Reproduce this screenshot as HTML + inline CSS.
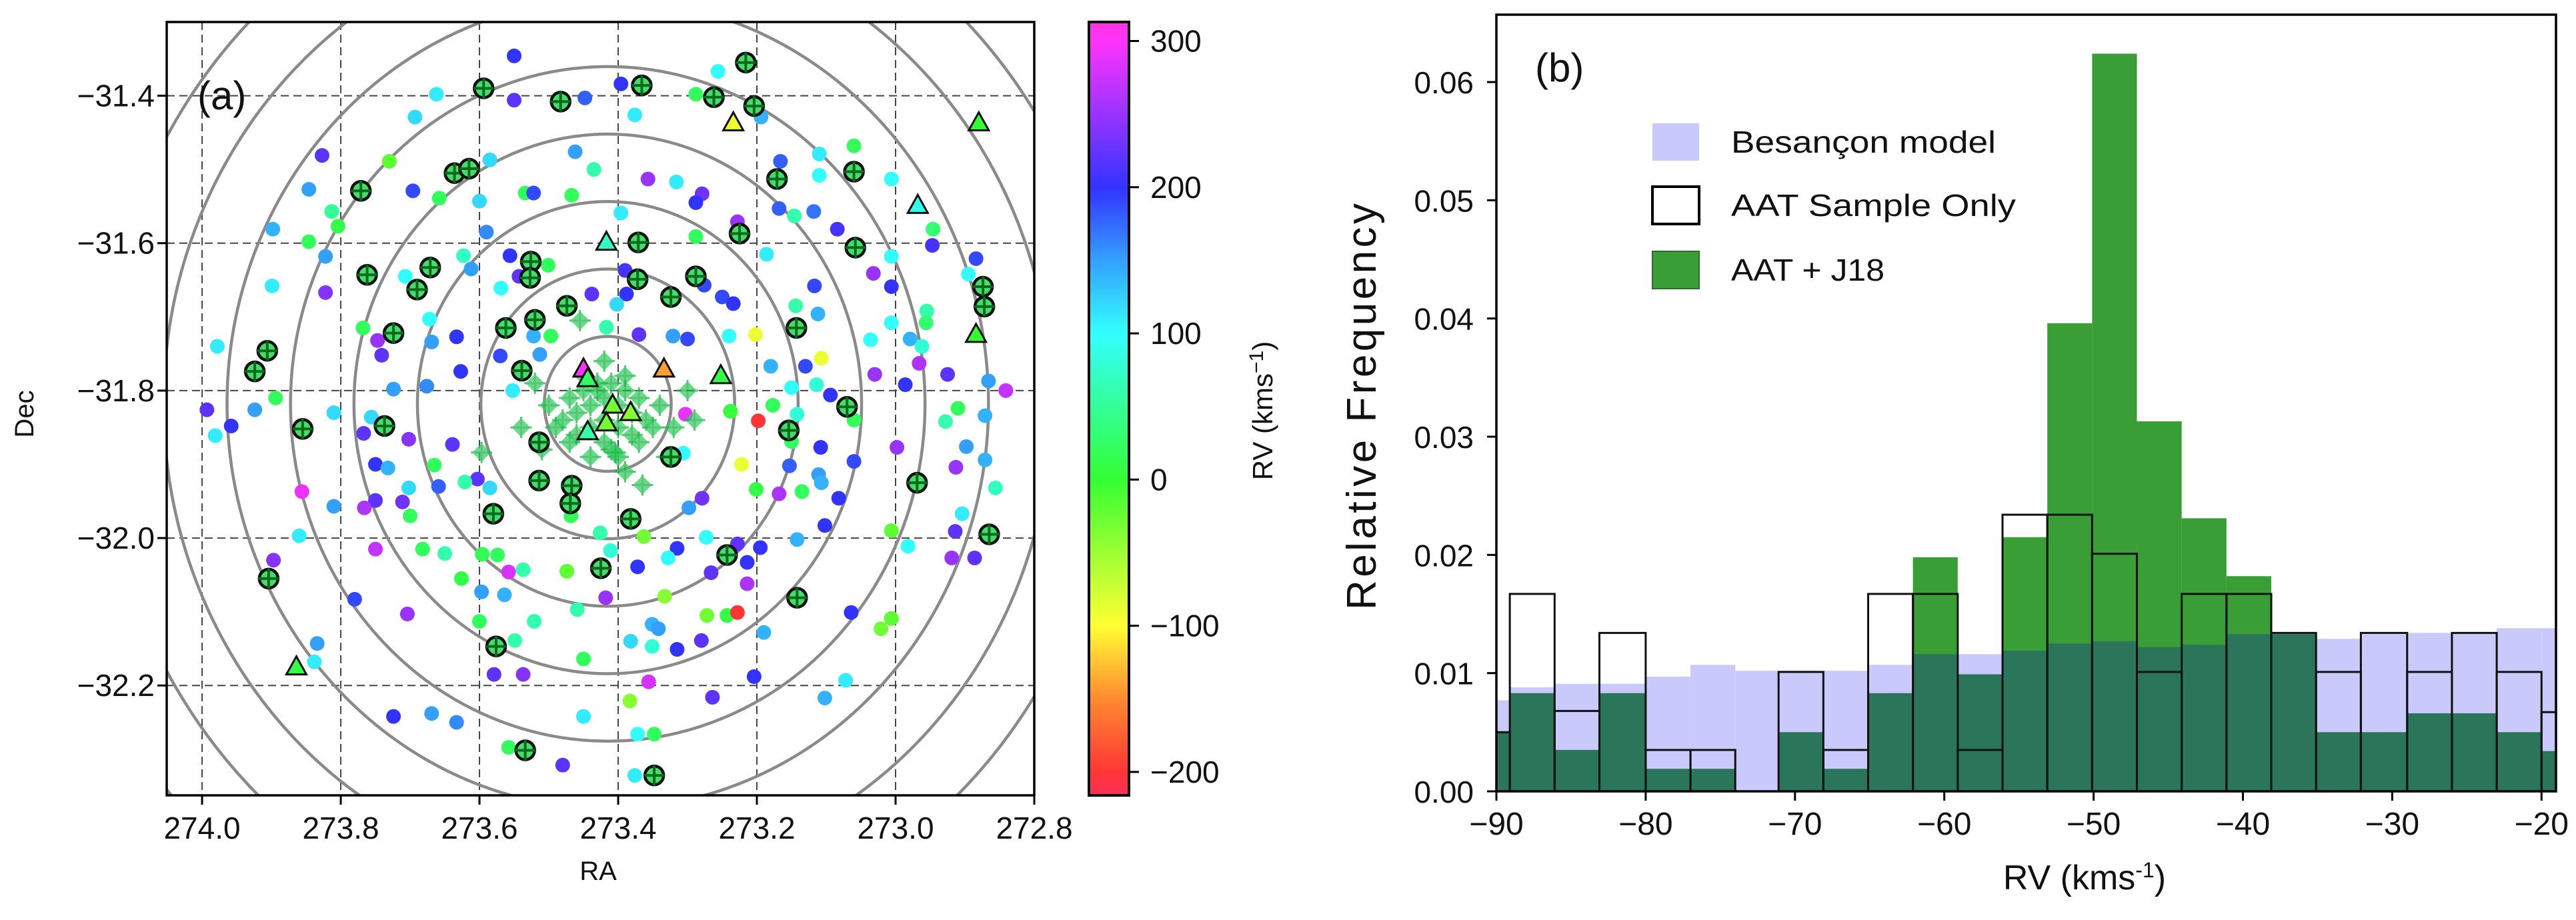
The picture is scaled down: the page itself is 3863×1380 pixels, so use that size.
<!DOCTYPE html>
<html><head><meta charset="utf-8"><style>
html,body{margin:0;padding:0;background:#fff;width:3863px;height:1380px;overflow:hidden;}
svg{display:block;}
text{font-family:"Liberation Sans",sans-serif;fill:#111;}
</style></head><body>
<svg id="fig" width="3863" height="1380" viewBox="0 0 3863 1380" overflow="hidden" xmlns="http://www.w3.org/2000/svg">
<defs>
<clipPath id="clipA"><rect x="250" y="33" width="1301" height="1160"/></clipPath>
<clipPath id="clipB"><rect x="2244" y="22" width="1589" height="1165"/></clipPath>
<linearGradient id="cbar" x1="0" y1="1" x2="0" y2="0">
<stop offset="0" stop-color="#ff3058"/><stop offset="0.03" stop-color="#ff3535"/><stop offset="0.125" stop-color="#ff8a30"/><stop offset="0.219" stop-color="#ffff33"/><stop offset="0.314" stop-color="#9cff33"/><stop offset="0.408" stop-color="#33ff33"/><stop offset="0.503" stop-color="#33ff99"/><stop offset="0.597" stop-color="#33ffff"/><stop offset="0.692" stop-color="#33a0ff"/><stop offset="0.786" stop-color="#3333ff"/><stop offset="0.881" stop-color="#9933ff"/><stop offset="0.975" stop-color="#ff33ff"/><stop offset="1" stop-color="#ff33dd"/>
</linearGradient>
</defs>
<g id="panelA"></g>
<g id="panelB"></g>
</svg>
<script>
// ---------- Panel (a) data ----------
const dotRA=[273.550,273.256,273.396,273.662,273.550,273.448,273.288,273.376,273.693,273.194,273.060,273.462,273.827,273.730,273.585,273.110,273.166,273.435,273.110,273.006,273.357,273.316,273.846,273.696,273.534,273.522,273.467,273.279,273.658,273.600,273.288,273.168,273.118,273.146,273.396,273.813,273.804,273.228,273.084,272.946,273.898,273.590,273.846,272.947,273.288,273.822,273.623,273.556,272.884,273.186,273.501,273.006,273.612,273.543,273.390,273.032,272.895,273.707,273.899,273.276,273.569,273.117,273.006,273.822,273.388,273.250,273.234,273.438,273.402,273.144,272.955,273.112,273.417,273.672,273.006,273.768,272.956,273.370,273.321,273.300,273.497,273.202,273.240,273.036,272.979,273.747,273.669,273.633,273.522,273.741,273.570,273.513,272.962,273.107,272.966,273.978,273.180,273.130,273.627,272.925,273.030,272.866,272.986,272.841,273.724,273.676,273.552,273.150,273.094,273.114,273.993,273.924,273.894,273.810,273.756,273.958,273.981,273.177,273.142,272.910,272.928,272.871,273.060,273.198,273.238,273.303,273.767,273.702,273.639,272.898,272.998,273.108,273.306,273.150,273.750,273.732,273.665,273.603,273.222,273.060,272.871,273.153,272.913,273.621,273.659,273.702,273.810,273.856,273.750,273.711,273.766,273.585,273.279,273.298,273.201,273.168,273.135,273.111,273.107,273.082,272.856,273.468,273.700,272.904,273.102,273.860,273.363,273.426,273.273,273.142,273.006,272.914,273.411,273.897,273.750,273.682,273.650,273.596,273.574,273.315,273.228,273.195,272.982,272.919,272.886,273.328,273.214,273.558,273.537,273.474,273.372,273.266,273.626,273.214,273.597,273.564,273.780,273.333,273.418,273.704,273.459,273.272,273.243,273.228,273.064,273.006,273.021,273.600,273.521,273.351,273.342,273.190,273.834,273.382,273.280,273.549,273.351,273.315,273.838,273.450,273.579,273.537,273.356,273.204,273.072,273.383,273.264,273.102,273.724,273.669,273.633,273.450,273.372,273.348,273.558,273.480,273.376];
const dotDec=[-31.346,-31.367,-31.384,-31.398,-31.406,-31.403,-31.398,-31.426,-31.429,-31.429,-31.468,-31.476,-31.481,-31.489,-31.487,-31.479,-31.489,-31.500,-31.508,-31.513,-31.513,-31.517,-31.527,-31.529,-31.532,-31.532,-31.535,-31.533,-31.539,-31.543,-31.545,-31.553,-31.557,-31.563,-31.559,-31.557,-31.577,-31.571,-31.581,-31.581,-31.581,-31.585,-31.598,-31.603,-31.591,-31.618,-31.617,-31.617,-31.621,-31.615,-31.630,-31.618,-31.635,-31.645,-31.637,-31.641,-31.642,-31.645,-31.658,-31.657,-31.661,-31.658,-31.659,-31.667,-31.669,-31.673,-31.682,-31.669,-31.683,-31.685,-31.692,-31.696,-31.714,-31.703,-31.708,-31.715,-31.708,-31.724,-31.726,-31.730,-31.726,-31.724,-31.726,-31.731,-31.730,-31.732,-31.734,-31.727,-31.726,-31.752,-31.753,-31.751,-31.740,-31.756,-31.763,-31.740,-31.767,-31.767,-31.774,-31.778,-31.778,-31.787,-31.792,-31.800,-31.798,-31.794,-31.800,-31.796,-31.806,-31.792,-31.826,-31.826,-31.810,-31.830,-31.836,-31.848,-31.861,-31.820,-31.832,-31.824,-31.842,-31.834,-31.840,-31.841,-31.828,-31.832,-31.858,-31.866,-31.873,-31.876,-31.877,-31.877,-31.885,-31.869,-31.900,-31.905,-31.901,-31.920,-31.900,-31.896,-31.894,-31.902,-31.904,-31.924,-31.930,-31.932,-31.957,-31.937,-31.949,-31.951,-31.959,-31.932,-31.946,-31.959,-31.934,-31.940,-31.937,-31.914,-31.925,-31.946,-31.932,-31.970,-31.970,-31.967,-31.983,-31.997,-31.998,-31.993,-31.999,-32.002,-31.990,-31.991,-32.017,-32.030,-32.015,-32.015,-32.021,-32.022,-32.023,-32.014,-32.008,-32.013,-32.011,-32.027,-32.027,-32.027,-32.033,-32.046,-32.043,-32.045,-32.039,-32.047,-32.055,-32.062,-32.073,-32.077,-32.083,-32.079,-32.081,-32.103,-32.097,-32.105,-32.105,-32.101,-32.101,-32.109,-32.123,-32.113,-32.113,-32.117,-32.123,-32.128,-32.143,-32.140,-32.139,-32.139,-32.147,-32.151,-32.168,-32.164,-32.185,-32.185,-32.195,-32.188,-32.193,-32.221,-32.216,-32.217,-32.242,-32.238,-32.250,-32.242,-32.266,-32.266,-32.284,-32.308,-32.322];
const dotRV=[200,100,200,110,220,180,20,110,120,140,20,150,220,-20,120,110,180,60,100,100,250,110,150,190,20,190,20,230,20,120,200,180,170,60,110,50,10,250,210,30,140,160,20,210,20,150,70,200,190,110,20,100,150,220,210,250,100,100,110,190,100,190,200,240,200,190,200,220,120,60,60,140,60,100,100,20,30,220,150,190,20,-90,100,100,140,250,150,200,140,220,190,150,80,-90,260,110,140,190,200,220,250,150,200,270,150,160,110,100,200,80,220,150,20,120,120,200,110,20,80,20,60,140,20,-200,5,290,220,240,220,150,250,200,100,20,200,140,20,220,-90,190,140,180,250,60,180,120,150,290,220,230,260,120,230,150,10,260,20,150,140,200,70,20,20,110,200,110,-30,60,100,140,-20,220,80,240,270,20,60,15,20,200,220,200,100,250,220,100,200,280,60,-20,200,220,10,260,150,140,190,-40,250,250,60,-30,10,-200,200,-20,-30,20,60,140,150,140,150,120,220,60,80,200,110,20,220,240,280,200,110,-40,220,140,200,150,160,110,100,20,20,220,110];
const memRA=[273.216,273.366,273.594,273.483,273.262,273.204,273.636,273.615,273.060,273.171,273.771,273.225,273.371,273.058,273.526,273.671,273.762,273.527,273.372,273.288,272.874,273.690,273.324,273.474,272.872,273.562,273.520,273.143,273.724,273.906,273.539,273.924,273.070,273.855,273.737,273.154,273.514,273.324,273.514,273.467,273.469,272.969,273.580,273.382,272.865,273.904,273.243,273.425,273.142,273.576,273.534,273.348];
const memDec=[-31.355,-31.386,-31.390,-31.408,-31.402,-31.414,-31.505,-31.499,-31.503,-31.513,-31.529,-31.587,-31.599,-31.606,-31.625,-31.633,-31.643,-31.647,-31.649,-31.645,-31.659,-31.663,-31.673,-31.685,-31.686,-31.715,-31.704,-31.715,-31.722,-31.746,-31.773,-31.774,-31.822,-31.852,-31.848,-31.854,-31.870,-31.890,-31.922,-31.929,-31.953,-31.925,-31.967,-31.974,-31.995,-32.055,-32.023,-32.041,-32.081,-32.147,-32.288,-32.322];
const memRV=[30,30,30,30,30,30,30,30,30,30,30,30,30,30,30,30,30,30,30,30,30,30,30,30,30,30,30,30,30,30,30,30,30,30,30,30,30,30,30,30,30,30,30,30,30,30,30,30,30,30,30,30];
const triRA=[273.234,272.880,272.968,273.417,272.884,273.450,273.334,273.252,273.408,273.382,273.417,273.444,273.444,273.864];
const triDec=[-31.437,-31.437,-31.549,-31.599,-31.724,-31.771,-31.771,-31.780,-31.820,-31.830,-31.844,-31.856,-31.784,-32.175];
const triRV=[-90,0,90,70,0,300,-140,10,-30,-40,-30,60,20,10];
const clRA=[273.43,273.41,273.39,273.45,273.37,273.47,273.42,273.40,273.44,273.46,273.38,273.36,273.48,273.42,273.40,273.44,273.46,273.38,273.42,273.35,273.49,273.41,273.43,273.39,273.45,273.50,273.34,273.37,273.47,273.42,273.52,273.30,273.54,273.32,273.40,273.44,273.29,273.51,273.39,273.33,273.455,273.597,273.404,273.365];
const clDec=[-31.79,-31.79,-31.80,-31.80,-31.81,-31.81,-31.81,-31.82,-31.82,-31.83,-31.83,-31.84,-31.84,-31.84,-31.85,-31.85,-31.86,-31.86,-31.87,-31.85,-31.85,-31.88,-31.80,-31.78,-31.78,-31.82,-31.82,-31.87,-31.87,-31.76,-31.79,-31.80,-31.85,-31.85,-31.89,-31.89,-31.84,-31.88,-31.91,-31.89,-31.705,-31.884,-31.884,-31.928];
const clRV=[20,25,15,30,20,10,25,20,15,30,20,25,10,20,15,30,20,25,15,20,10,25,20,30,15,20,25,15,20,30,20,25,20,15,25,20,30,20,25,20,20,15,20,25];
const raTicks=[274.0,273.8,273.6,273.4,273.2,273.0,272.8];
const decTicks=[-31.4,-31.6,-31.8,-32.0,-32.2];
const cbTicks=[300,200,100,0,-100,-200];
const ringCenter=[273.415,-31.818];
const ringRadii=[0.0915,0.183,0.2745,0.366,0.4575,0.549,0.6405,0.732,0.8235];

// ---------- Panel (b) data ----------
const binEdges=[-92.1,-89.1,-86.1,-83.1,-80.0,-77.0,-74.0,-71.1,-68.1,-65.1,-62.1,-59.1,-56.1,-53.1,-50.1,-47.1,-44.1,-41.1,-38.1,-35.1,-32.1,-29.0,-26.0,-23.0,-20.0,-17.0];
const besancon=[0.0077,0.0088,0.0091,0.0091,0.0097,0.0107,0.0102,0.0102,0.0102,0.0107,0.0116,0.0116,0.0119,0.0125,0.0127,0.0122,0.0124,0.0133,0.0133,0.0129,0.0133,0.0134,0.0134,0.0138,0.0138];
const aatJ18=[0.0050,0.0083,0.0035,0.0083,0.0019,0.0019,0.0,0.0050,0.0019,0.0083,0.0198,0.0099,0.0215,0.0396,0.0624,0.0313,0.0231,0.0182,0.0133,0.0050,0.0050,0.0066,0.0066,0.0050,0.0034];
const aatOnly=[0.0050,0.0167,0.0068,0.0134,0.0035,0.0035,0.0,0.0101,0.0035,0.0167,0.0167,0.0035,0.0234,0.0234,0.0201,0.0101,0.0167,0.0167,0.0134,0.0101,0.0134,0.0101,0.0134,0.0101,0.0067];
const rvTicks=[-90,-80,-70,-60,-50,-40,-30,-20];
const freqTicks=[0.00,0.01,0.02,0.03,0.04,0.05,0.06];
const freqTickLabels=["0.00","0.01","0.02","0.03","0.04","0.05","0.06"];

const NS="http://www.w3.org/2000/svg";
function mk(tag,attrs,parent){const e=document.createElementNS(NS,tag);for(const k in attrs)e.setAttribute(k,attrs[k]);parent.appendChild(e);return e;}

const cmV=[-216,-200,-150,-100,-50,0,50,100,150,200,250,300,313];
const cmC=[[255,48,88],[255,53,53],[255,138,48],[255,255,51],[156,255,51],[51,255,51],[51,255,153],[51,255,255],[51,160,255],[51,51,255],[153,51,255],[255,51,255],[255,51,221]];
function cmap(v){
  if(v<=cmV[0])return "rgb("+cmC[0]+")";
  for(let i=1;i<cmV.length;i++){if(v<=cmV[i]){const t=(v-cmV[i-1])/(cmV[i]-cmV[i-1]);const c=cmC[i-1].map((a,j)=>Math.round(a+(cmC[i][j]-a)*t));return "rgb("+c+")";}}
  return "rgb("+cmC[cmC.length-1]+")";
}

// ---------- Panel A ----------
const A=document.getElementById('panelA');
const AX={l:250,t:33,r:1551,b:1193,ra0:274.051,ra1:272.80,d0:-31.300,d1:-32.349};
const xA=ra=>AX.l+(AX.ra0-ra)/(AX.ra0-AX.ra1)*(AX.r-AX.l);
const yA=d=>AX.t+(AX.d0-d)/(AX.d0-AX.d1)*(AX.b-AX.t);
const pxPerDegX=(AX.r-AX.l)/(AX.ra0-AX.ra1), pxPerDegY=(AX.b-AX.t)/(AX.d0-AX.d1);
const gA=mk('g',{'clip-path':'url(#clipA)'},A);


raTicks.forEach(v=>{const l=mk('line',{x1:xA(v),x2:xA(v),y1:AX.t,y2:AX.b,stroke:'#444','stroke-width':2,'stroke-dasharray':'12,7'},gA);

});
decTicks.forEach(v=>{const l=mk('line',{x1:AX.l,x2:AX.r,y1:yA(v),y2:yA(v),stroke:'#444','stroke-width':2,'stroke-dasharray':'12,7'},gA);

});
ringRadii.forEach(r=>{const e=mk('ellipse',{cx:xA(ringCenter[0]),cy:yA(ringCenter[1]),rx:r*pxPerDegX,ry:r*pxPerDegY,fill:'none',stroke:'#8a8a8a','stroke-width':4.5},gA);

});
dotRA.forEach((ra,i)=>{const c=mk('circle',{cx:xA(ra),cy:yA(dotDec[i]),r:11,fill:cmap(dotRV[i])},gA);

});
clRA.forEach((ra,i)=>{const x=xA(ra),y=yA(clDec[i]);const g=mk('g',{opacity:0.75},gA);


mk('polygon',{points:`${x},${y-14} ${x+14},${y} ${x},${y+14} ${x-14},${y}`,fill:'#2fd25e'},g);
mk('line',{x1:x-16,x2:x+16,y1:y,y2:y,stroke:'#25b04c','stroke-width':3},g);
mk('line',{x1:x,x2:x,y1:y-16,y2:y+16,stroke:'#25b04c','stroke-width':3},g);});
memRA.forEach((ra,i)=>{const x=xA(ra),y=yA(memDec[i]);const g=mk('g',{},gA);


mk('circle',{cx:x,cy:y,r:14,fill:'#44dc6a',stroke:'#111','stroke-width':4.5},g);
mk('line',{x1:x-15,x2:x+15,y1:y,y2:y,stroke:'#0b6a1c','stroke-width':4},g);
mk('line',{x1:x,x2:x,y1:y-15,y2:y+15,stroke:'#0b6a1c','stroke-width':4},g);});
triRA.forEach((ra,i)=>{const x=xA(ra),y=yA(triDec[i]);const p=mk('polygon',{points:`${x},${y-16} ${x+15},${y+11} ${x-15},${y+11}`,fill:cmap(triRV[i]),stroke:'#111','stroke-width':3},gA);

});
const frA=mk('rect',{x:AX.l,y:AX.t,width:AX.r-AX.l,height:AX.b-AX.t,fill:'none',stroke:'#000','stroke-width':3.5},A);


raTicks.forEach(v=>{mk('line',{x1:xA(v),x2:xA(v),y1:AX.b,y2:AX.b+14,stroke:'#000','stroke-width':3},A);
const t=mk('text',{x:xA(v),y:1258,'text-anchor':'middle','font-size':46},A);t.textContent=v.toFixed(1);

});
decTicks.forEach(v=>{mk('line',{x1:AX.l-14,x2:AX.l,y1:yA(v),y2:yA(v),stroke:'#000','stroke-width':3},A);
const t=mk('text',{x:232,y:yA(v)+16,'text-anchor':'end','font-size':46},A);t.textContent='\u2212'+Math.abs(v).toFixed(1);

});
let t=mk('text',{x:897,y:1320,'text-anchor':'middle','font-size':40},A);t.textContent='RA';


t=mk('text',{x:0,y:0,'text-anchor':'middle','font-size':40,transform:'translate(50,621) rotate(-90)'},A);t.textContent='Dec';


t=mk('text',{x:296,y:164,'font-size':60},A);t.textContent='(a)';


const CB={l:1633,r:1693,t:33,b:1193,v0:-216,v1:313};
const yCB=v=>CB.b-(v-CB.v0)/(CB.v1-CB.v0)*(CB.b-CB.t);
const cb=mk('rect',{x:CB.l,y:CB.t,width:CB.r-CB.l,height:CB.b-CB.t,fill:'url(#cbar)',stroke:'#000','stroke-width':4},A);


cbTicks.forEach(v=>{mk('line',{x1:CB.r,x2:CB.r+15,y1:yCB(v),y2:yCB(v),stroke:'#000','stroke-width':3},A);
const tt=mk('text',{x:1725,y:yCB(v)+16,'font-size':46},A);tt.textContent=(v<0?'\u2212':'')+Math.abs(v);

});
t=mk('text',{x:0,y:0,'text-anchor':'middle','font-size':42,transform:'translate(1908,616) rotate(-90)'},A);
t.innerHTML='RV (kms<tspan dy="-14" font-size="30">\u22121</tspan><tspan dy="14">)</tspan>';



// ---------- Panel B ----------
const B=document.getElementById('panelB');
const BX={l:2244,r:3833,t:22,b:1187,x0:-90,x1:-19.03,y0:0,y1:0.0657};
const xB=v=>BX.l+(v-BX.x0)/(BX.x1-BX.x0)*(BX.r-BX.l);
const yB=v=>BX.b-(v-BX.y0)/(BX.y1-BX.y0)*(BX.b-BX.t);
const gB=mk('g',{'clip-path':'url(#clipB)'},B);


for(let i=0;i<besancon.length;i++){
  const x0=xB(binEdges[i]),x1=xB(binEdges[i+1]),w=x1-x0;
  let r=mk('rect',{x:x0,y:yB(besancon[i]),width:w,height:yB(0)-yB(besancon[i]),fill:'#c9c9fb'},gB);
  
  
  r=mk('rect',{x:x0,y:yB(aatJ18[i]),width:w,height:yB(0)-yB(aatJ18[i]),fill:'#3a9e36'},gB);
  
  
  const m=Math.min(aatJ18[i],besancon[i]);
  r=mk('rect',{x:x0,y:yB(m),width:w,height:yB(0)-yB(m),fill:'#2b755a'},gB);
  
  
}
for(let i=0;i<aatOnly.length;i++){
  const x0=xB(binEdges[i]),x1=xB(binEdges[i+1]);
  const r=mk('rect',{x:x0,y:yB(aatOnly[i]),width:x1-x0,height:yB(0)-yB(aatOnly[i]),fill:'none',stroke:'#111','stroke-width':3},gB);
  
  
}
const frB=mk('rect',{x:BX.l,y:BX.t,width:BX.r-BX.l,height:BX.b-BX.t,fill:'none',stroke:'#000','stroke-width':3.5},B);


rvTicks.forEach(v=>{mk('line',{x1:xB(v),x2:xB(v),y1:BX.b,y2:BX.b+14,stroke:'#000','stroke-width':3},B);
const tt=mk('text',{x:xB(v),y:1252,'text-anchor':'middle','font-size':48},B);tt.textContent='\u2212'+Math.abs(v);

});
freqTicks.forEach((v,i)=>{mk('line',{x1:BX.l-14,x2:BX.l,y1:yB(v),y2:yB(v),stroke:'#000','stroke-width':3},B);
const tt=mk('text',{x:2210,y:yB(v)+17,'text-anchor':'end','font-size':46},B);tt.textContent=freqTickLabels[i];

});
t=mk('text',{x:0,y:0,'text-anchor':'middle','font-size':62,textLength:610,transform:'translate(2063,610) rotate(-90)'},B);t.textContent='Relative Frequency';


t=mk('text',{x:3126,y:1334,'text-anchor':'middle','font-size':52},B);
t.innerHTML='RV (kms<tspan dy="-18" font-size="32">-1</tspan><tspan dy="18">)</tspan>';


t=mk('text',{x:2302,y:122,'font-size':60},B);t.textContent='(b)';


const lg=mk('g',{},B);


const legItems=[['Besançon model',185,{fill:'#c9c9fb'},397],['AAT Sample Only',280,{fill:'none',stroke:'#000','stroke-width':4},427],['AAT + J18',377,{fill:'#3a9e36',stroke:'#2b6e2b','stroke-width':2},230]];
legItems.forEach(it=>{const g=mk('g',{},lg);


mk('rect',Object.assign({x:2478,y:it[1],width:70,height:56},it[2]),g);
const tx=mk('text',{x:2596,y:it[1]+44,'font-size':46,textLength:it[3],lengthAdjust:'spacingAndGlyphs'},g);tx.textContent=it[0];});
</script>
</body></html>
